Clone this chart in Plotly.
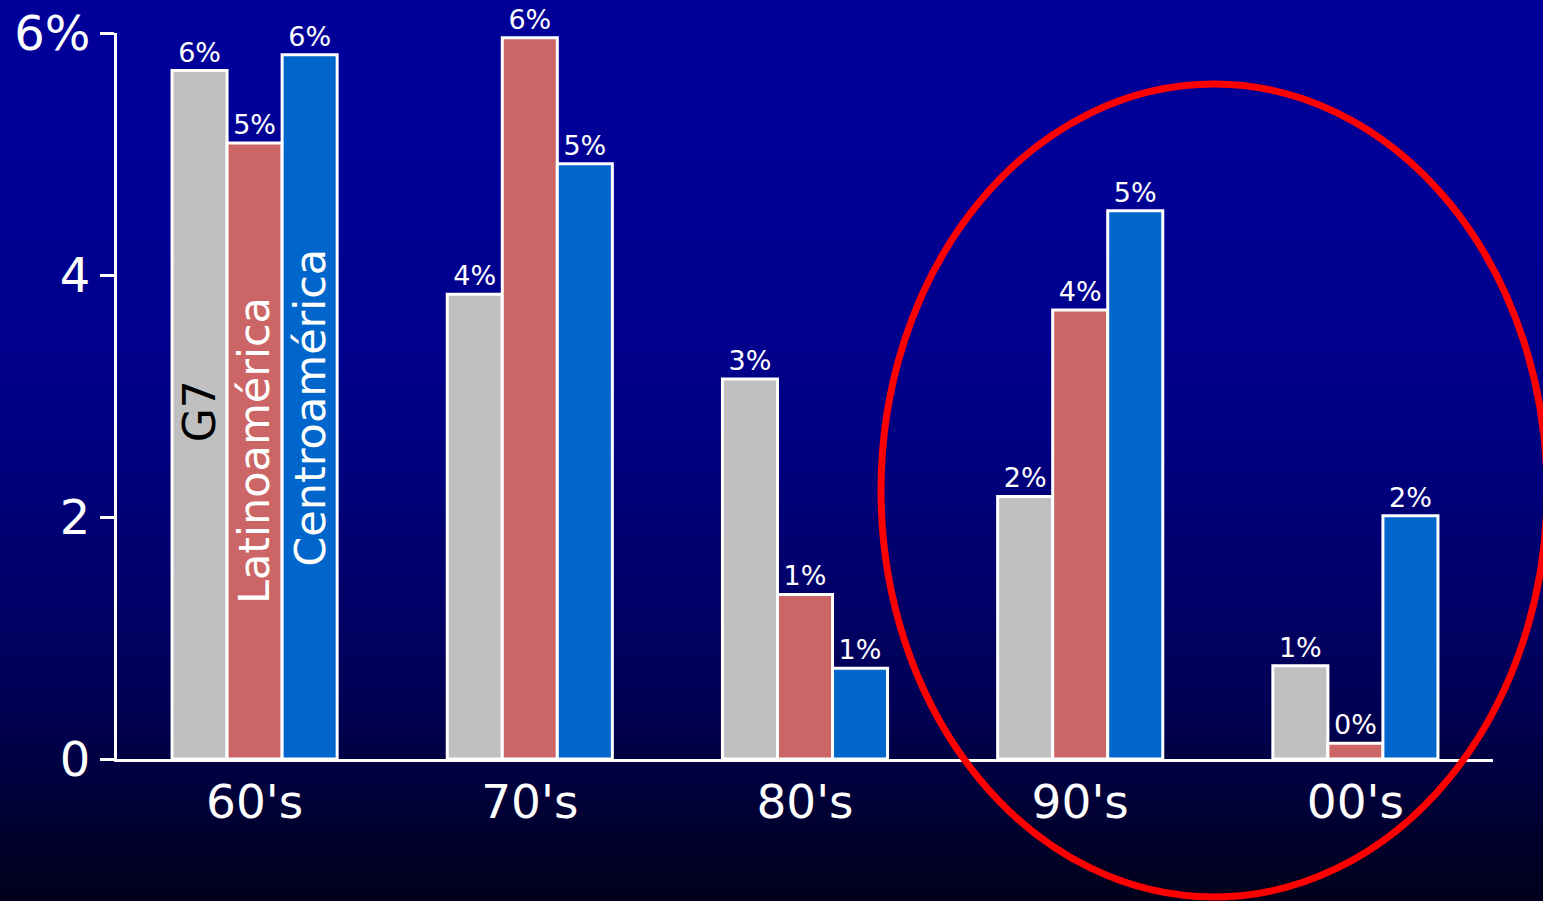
import plotly.graph_objects as go

# Decades on the x axis
decades = ["60's", "70's", "80's", "90's", "00's"]

# Average growth (%) per decade for each region
g7 = [5.69, 3.84, 3.14, 2.17, 0.77]
latinoamerica = [5.09, 5.96, 1.36, 3.71, 0.13]
centroamerica = [5.82, 4.92, 0.75, 4.53, 2.01]

series_names = ["G7", "Latinoamérica", "Centroamérica"]
series_colors = ["#C0C0C0", "#CC6666", "#0066CC"]

W, H = 1543, 901
ML, MR, MT, MB = 117, 50, 33, 142
PW, PH = W - ML - MR, H - MT - MB


def px_to_paper_x(px):
    return (px - ML) / PW


def px_to_paper_y(py):
    return 1 - (py - MT) / PH


fig = go.Figure()

for name, vals, col in zip(series_names, [g7, latinoamerica, centroamerica], series_colors):
    fig.add_trace(go.Bar(
        x=decades,
        y=vals,
        name=name,
        marker=dict(color=col, line=dict(color="white", width=3)),
        text=[f"{round(v):.0f}%" for v in vals],
        textposition="outside",
        textfont=dict(color="white", size=27, family="DejaVu Sans"),
        cliponaxis=False,
        showlegend=False,
    ))

# Vertical background gradient built from thin horizontal strips
stops = [(0, 153), (150, 150), (350, 140), (450, 128), (600, 104), (720, 80), (880, 32), (901, 28)]


def blue_at(py):
    for (y0, b0), (y1, b1) in zip(stops[:-1], stops[1:]):
        if y0 <= py <= y1:
            return b0 + (b1 - b0) * (py - y0) / (y1 - y0)
    return stops[-1][1]


shapes = []
step = 3
for py in range(0, H, step):
    b = int(round(blue_at(py + step / 2)))
    top = -30 if py == 0 else py - 0.5
    bottom = H + 30 if py + step >= H else py + step + 0.5
    shapes.append(dict(
        type="rect", xref="paper", yref="paper",
        x0=px_to_paper_x(-30), x1=px_to_paper_x(W + 30),
        y0=px_to_paper_y(bottom), y1=px_to_paper_y(top),
        fillcolor=f"rgb(0,0,{b})", line=dict(width=0), layer="below",
    ))

# Red ellipse highlighting the last two decades
shapes.append(dict(
    type="circle", xref="paper", yref="paper",
    x0=px_to_paper_x(881), x1=px_to_paper_x(1547),
    y0=px_to_paper_y(897), y1=px_to_paper_y(84),
    line=dict(color="#FF0000", width=7), layer="above",
))

# Series names written vertically inside the first group of bars
annotations = [
    dict(x=-0.2, y=2.87, xref="x", yref="y", text="G7", textangle=-90,
         showarrow=False, font=dict(color="black", size=44, family="DejaVu Sans")),
    dict(x=0.0, y=2.55, xref="x", yref="y", text="Latinoamérica", textangle=-90,
         showarrow=False, font=dict(color="white", size=43, family="DejaVu Sans")),
    dict(x=0.2, y=2.90, xref="x", yref="y", text="Centroamérica", textangle=-90,
         showarrow=False, font=dict(color="white", size=43, family="DejaVu Sans")),
]

fig.update_layout(
    width=W, height=H,
    margin=dict(l=ML, r=MR, t=MT, b=MB, autoexpand=False),
    paper_bgcolor="rgb(0,0,28)",
    plot_bgcolor="rgba(0,0,0,0)",
    barmode="group",
    bargap=0.4,
    bargroupgap=0.0,
    font=dict(family="DejaVu Sans", color="white"),
    shapes=shapes,
    annotations=annotations,
    xaxis=dict(
        range=[-0.5, 4.5], automargin=False,
        showline=True, linecolor="white", linewidth=3,
        showgrid=False, zeroline=False, ticks="",
        tickfont=dict(size=47, color="white"),
    ),
    yaxis=dict(
        range=[0, 6], automargin=False,
        showline=True, linecolor="white", linewidth=3,
        showgrid=False, zeroline=False,
        ticks="outside", ticklen=14, tickwidth=3, tickcolor="white",
        tickvals=[0, 2, 4, 6], ticktext=["0", "2", "4", "6%"],
        tickfont=dict(size=48, color="white"),
    ),
)

fig.write_html("out.html")
